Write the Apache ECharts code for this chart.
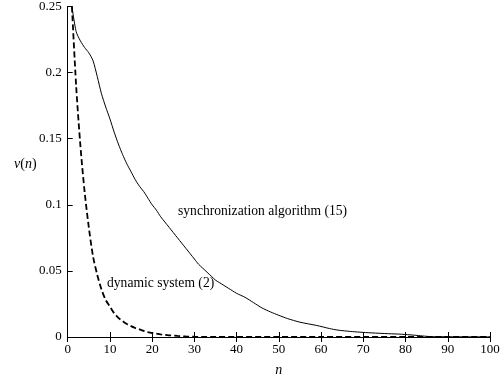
<!DOCTYPE html>
<html>
<head>
<meta charset="utf-8">
<script src="https://cdn.jsdelivr.net/npm/echarts@6/dist/echarts.min.js"></script>
<style>
  html, body { margin: 0; padding: 0; background: #fff; }
  #main { width: 503px; height: 382px; }
</style>
</head>
<body>
<div id="main"></div>
<script>
// data
var syncN = [1, 2, 3, 4, 5, 6, 7, 8, 9, 10, 11, 12, 13, 14, 15, 16, 17, 18, 19, 20,
    21, 22, 23, 24, 25, 26, 27, 28, 29, 30, 31, 32, 33, 34, 35, 36, 37, 38, 39, 40,
    42, 44, 46, 48, 50, 52, 55, 59, 62, 64, 67, 69, 72, 76, 79, 82, 84, 86, 90, 95, 100];
var syncV = [0.25, 0.231, 0.224, 0.219, 0.215, 0.209, 0.197, 0.184, 0.174, 0.165,
    0.155, 0.146, 0.138, 0.131, 0.125, 0.119, 0.114, 0.110, 0.105, 0.100,
    0.096, 0.091, 0.087, 0.083, 0.079, 0.075, 0.071, 0.067, 0.063, 0.059,
    0.055, 0.052, 0.049, 0.046, 0.043, 0.041, 0.039, 0.037, 0.035, 0.033,
    0.030, 0.026, 0.022, 0.019, 0.0164, 0.014, 0.0112, 0.0087, 0.0064, 0.0052,
    0.0042, 0.0037, 0.0031, 0.0025, 0.0021, 0.0014, 0.0008, 0.0003, 0.0002, 0.0001, 0.0001];

var dynN = [1, 2, 3, 4, 5, 6, 7, 8, 9, 10, 11, 12, 13, 14, 15, 16, 17, 18, 19, 20,
    21, 22, 24, 26, 28, 30, 32, 35, 40, 50, 60, 70, 80, 90, 100];
var dynV = [0.25, 0.19, 0.145, 0.11, 0.083, 0.061, 0.047, 0.036, 0.028, 0.023,
    0.018, 0.0145, 0.012, 0.0098, 0.0082, 0.0068, 0.0058, 0.0046, 0.0037, 0.003,
    0.0025, 0.002, 0.0013, 0.0008, 0.0004, 0.0002, 0.0001, 0, 0, 0, 0, 0, 0, 0, 0];

var xTicks = [0, 10, 20, 30, 40, 50, 60, 70, 80, 90, 100];
var yTicks = [0, 0.05, 0.1, 0.15, 0.2, 0.25];

function pairs(xs, ys) {
    return xs.map(function (x, i) { return [x, ys[i]]; });
}

var font = 'Liberation Serif';
var myChart = echarts.init(document.getElementById('main'));
option = {
    animation: false,
    textStyle: { fontFamily: font },
    grid: { left: 67.7, right: 13, top: 6.5, bottom: 41 },
    xAxis: [
        {
            type: 'value',
            min: xTicks[0],
            max: xTicks[xTicks.length - 1],
            interval: 10,
            name: 'n',
            nameLocation: 'middle',
            nameGap: 26,
            nameTextStyle: { fontFamily: font, fontSize: 14, fontStyle: 'italic', color: '#000' },
            axisLine: { lineStyle: { color: '#000', width: 1 } },
            axisTick: { inside: true, length: 5, lineStyle: { color: '#000' } },
            axisLabel: { color: '#000', fontFamily: font, fontSize: 13, margin: 6 },
            splitLine: { show: false }
        },
        {
            type: 'value',
            position: 'top',
            min: xTicks[0],
            max: xTicks[xTicks.length - 1],
            interval: 10,
            axisLine: { show: true, lineStyle: { color: '#000', width: 1 } },
            axisTick: { inside: true, length: 5, lineStyle: { color: '#000' } },
            axisLabel: { show: false },
            splitLine: { show: false }
        }
    ],
    yAxis: [
        {
            type: 'value',
            min: yTicks[0],
            max: yTicks[yTicks.length - 1],
            interval: 0.05,
            axisLine: { show: true, lineStyle: { color: '#000', width: 1 } },
            axisTick: { show: true, inside: true, length: 5, lineStyle: { color: '#000' } },
            axisLabel: { color: '#000', fontFamily: font, fontSize: 13, margin: 6 },
            splitLine: { show: false }
        },
        {
            type: 'value',
            position: 'right',
            min: yTicks[0],
            max: yTicks[yTicks.length - 1],
            interval: 0.05,
            axisLine: { show: true, lineStyle: { color: '#000', width: 1 } },
            axisTick: { show: false },
            axisLabel: { show: false },
            splitLine: { show: false }
        }
    ],
    graphic: [
        {
            type: 'text',
            left: 14,
            top: 157,
            style: {
                text: '{i|v}({i|n})',
                rich: { i: { fontStyle: 'italic', fontFamily: font, fontSize: 14 } },
                fontFamily: font,
                fontSize: 14,
                fill: '#000'
            }
        },
        {
            type: 'text',
            left: 178,
            top: 204,
            style: { text: 'synchronization algorithm (15)', fontFamily: font, fontSize: 13.6, fill: '#000' }
        },
        {
            type: 'text',
            left: 107,
            top: 276,
            style: { text: 'dynamic system (2)', fontFamily: font, fontSize: 13.6, fill: '#000' }
        }
    ],
    series: [
        {
            name: 'synchronization algorithm (15)',
            type: 'line',
            showSymbol: false,
            smooth: 0.25,
            data: pairs(syncN, syncV),
            lineStyle: { color: '#000', width: 1 }
        },
        {
            name: 'dynamic system (2)',
            type: 'line',
            showSymbol: false,
            smooth: 0.3,
            data: pairs(dynN, dynV),
            lineStyle: { color: '#000', width: 1.8, type: [6, 3] }
        }
    ]
};
myChart.setOption(option);
</script>
</body>
</html>
